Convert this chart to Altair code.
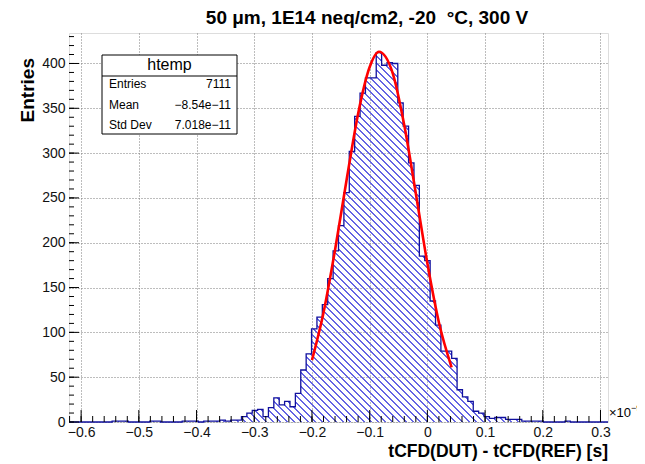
import altair as alt
import pandas as pd
import numpy as np

# ---------------- data ----------------
TITLE = "50 μm, 1E14 neq/cm2, -20\u00a0 °C, 300 V"
X_TITLE = "tCFD(DUT) - tCFD(REF) [s]"
Y_TITLE = "Entries"
X_MIN, X_MAX = -0.621, 0.313
Y_MAX = 434

COUNTS = [
    0, 0, 0, 0, 0, 0, 0, 0,
    1, 1, 1,
    0, 0, 0, 0,
    1, 1, 0,
    0, 0, 0,
    1, 1, 1, 0, 1, 1, 1,
    2, 1, 2, 2,
    6, 10, 13, 14, 6, 16, 27, 19, 23,
    17, 32, 58, 76, 104, 117, 131, 160, 191, 219, 256, 302, 341, 367, 384,
    384, 412, 398, 401, 400, 356, 330, 289, 264, 185, 180, 135, 108, 79, 79,
    71, 36, 28, 23, 12, 10, 6, 4, 5, 5, 3, 3, 3, 1, 1, 1, 1,
    0, 0, 0, 0, 1, 0, 0, 0, 0, 0, 0, 0,
]

FIT_X = [-0.200, -0.180, -0.160, -0.140, -0.120, -0.100, -0.084, -0.060,
         -0.040, -0.020, 0.000, 0.020, 0.042]
FIT_Y = [69, 122, 192, 270, 344, 396, 413, 389, 331, 255, 177, 111, 61]

X_MAJOR = [-0.6, -0.5, -0.4, -0.3, -0.2, -0.1, 0.0, 0.1, 0.2, 0.3]
X_MINOR = [round(-0.62 + 0.02 * i, 2) for i in range(47)]
Y_MAJOR = [0, 50, 100, 150, 200, 250, 300, 350, 400]
Y_MINOR = list(range(0, 431, 10))

STATS_NAME = "htemp"
STATS_LABELS = ["Entries", "Mean", "Std Dev"]
STATS_VALUES = ["7111", "\u22128.54e\u221211", "7.018e\u221211"]

# ---------------- layout / style ----------------
W, H = 539, 389
FONT = "Liberation Sans"
BLUE_LINE = "#10109e"
BLUE_HATCH = "#6464e4"

n_bins = len(COUNTS)
edges = np.linspace(X_MIN, X_MAX, n_bins + 1)
hist = pd.DataFrame({"x": list(edges), "count": COUNTS + [COUNTS[-1]]})
fit = pd.DataFrame({"x": FIT_X, "y": FIT_Y})

xs = alt.Scale(domain=[X_MIN, X_MAX], nice=False, zero=False)
ys = alt.Scale(domain=[0, Y_MAX], nice=False, zero=False)
xax = alt.Axis(values=X_MAJOR, format=".1~f", ticks=False, domain=False,
               grid=True, gridDash=[1, 2], gridColor="#7a7a7a", gridWidth=1,
               labelFontSize=14, labelFont=FONT, labelColor="#111",
               labelPadding=3, title=None, labelFlush=False)
yax = alt.Axis(values=Y_MAJOR, ticks=False, domain=False,
               grid=True, gridDash=[1, 2], gridColor="#7a7a7a", gridWidth=1,
               labelFontSize=14, labelFont=FONT, labelColor="#111",
               labelPadding=4, title=None)

def X(field):
    return alt.X(field, type="quantitative", scale=xs, axis=xax)

def Y(field):
    return alt.Y(field, type="quantitative", scale=ys, axis=yax)

# hatch made of a striped linear gradient
H_area = max(COUNTS) / Y_MAX * H
n_stripes = int(round((W + H_area * H_area / W) / 7.0))
stops = []
for i in range(n_stripes):
    a = i / n_stripes
    b = (i + 0.26) / n_stripes
    c = (i + 1) / n_stripes
    stops += [
        {"offset": a, "color": BLUE_HATCH},
        {"offset": b, "color": BLUE_HATCH},
        {"offset": b, "color": "rgba(255,255,255,0)"},
        {"offset": c, "color": "rgba(255,255,255,0)"},
    ]
hatch = {"gradient": "linear", "x1": 0, "y1": 1, "x2": 1,
         "y2": 1 - H_area / W, "stops": stops}

area = alt.Chart(hist).mark_area(interpolate="step-after", fill=hatch,
                                 strokeWidth=0).encode(x=X("x"), y=Y("count"))
outline = alt.Chart(hist).mark_line(interpolate="step-after", color=BLUE_LINE,
                                    strokeWidth=1.3).encode(x=X("x"), y=Y("count"))
fitline = alt.Chart(fit).mark_line(interpolate="monotone", color="#ff0000",
                                   strokeWidth=2.6).encode(x=X("x"), y=Y("y"))

def xticks(vals, length):
    return alt.Chart(pd.DataFrame({"v": vals})).mark_rule(
        color="black", strokeWidth=1).encode(
        x=X("v"), y=alt.value(H), y2=alt.value(H - length))

def yticks(vals, length):
    return alt.Chart(pd.DataFrame({"v": vals})).mark_rule(
        color="black", strokeWidth=1).encode(
        y=Y("v"), x=alt.value(0), x2=alt.value(length))

def label(text, x, y, size=12, align="left", weight="normal", baseline="middle", angle=0):
    kw = dict(align=align, baseline=baseline, fontSize=size, font=FONT,
              fontWeight=weight, color="black")
    if angle:
        kw["angle"] = angle
    return alt.Chart(pd.DataFrame({"t": [text]})).mark_text(**kw).encode(
        text="t:N", x=alt.value(x), y=alt.value(y))

# stats box
bx0, bx1, by0, by1, bsep = 33, 168, 22, 101, 43
box = alt.Chart(pd.DataFrame({"a": [0]})).mark_rect(
    fill="white", stroke="black", strokeWidth=1).encode(
    x=alt.value(bx0), x2=alt.value(bx1), y=alt.value(by0), y2=alt.value(by1))
sep = alt.Chart(pd.DataFrame({"a": [0]})).mark_rule(
    color="black", strokeWidth=1).encode(
    x=alt.value(bx0), x2=alt.value(bx1), y=alt.value(bsep))
stats_layers = [box, sep, label(STATS_NAME, (bx0 + bx1) / 2, 32, size=16, align="center")]
for i, (lab, val) in enumerate(zip(STATS_LABELS, STATS_VALUES)):
    yy = 51 + 20.5 * i
    stats_layers.append(label(lab, bx0 + 7, yy, size=12))
    stats_layers.append(label(val, bx1 - 6, yy, size=12, align="right"))

texts = [
    label(TITLE, 298, -9, size=19, align="center", weight="bold", baseline="alphabetic"),
    label(Y_TITLE, -35, 25, size=19, align="right", weight="bold",
          baseline="alphabetic", angle=270),
    label(X_TITLE, W, 424, size=17.5, align="right", weight="bold", baseline="alphabetic"),
    label("\u00d710", W + 1, 384, size=13, align="left", baseline="alphabetic"),
    label("\u22129", W + 23, 378, size=9, align="left", baseline="alphabetic"),
]

chart = alt.layer(
    area, outline, fitline,
    xticks(X_MINOR, 6), xticks(X_MAJOR, 12),
    yticks(Y_MINOR, 5), yticks(Y_MAJOR, 10),
    *stats_layers, *texts,
).properties(
    width=W, height=H,
    padding={"left": 61, "top": 25, "right": 29, "bottom": 40},
    autosize=alt.AutoSizeParams(type="none"),
).configure_view(
    stroke="black", strokeWidth=1
).configure(background="white")

chart.save("out.html", embed_options={"renderer": "svg", "actions": False})
